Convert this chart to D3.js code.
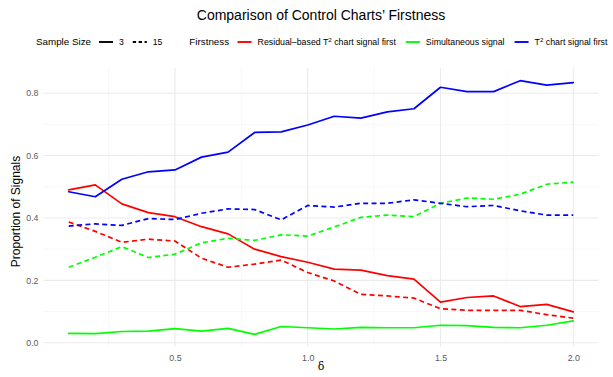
<!DOCTYPE html>
<html>
<head>
<meta charset="utf-8">
<script src="https://cdn.jsdelivr.net/npm/d3@7"></script>
<style>
  html, body { margin: 0; padding: 0; background: #fff; }
  svg { display: block; font-family: "Liberation Sans", Arial, Helvetica, sans-serif; }
</style>
</head>
<body>
<svg id="chart" width="613" height="377"></svg>
<script>
// Shift size delta on the x axis
const deltas = [0.1, 0.2, 0.3, 0.4, 0.5, 0.6, 0.7, 0.8, 0.9, 1.0,
                1.1, 1.2, 1.3, 1.4, 1.5, 1.6, 1.7, 1.8, 1.9, 2.0];

// Proportion of signals, sample size 3
const residualFirstN3 = [0.490, 0.506, 0.445, 0.417, 0.404, 0.372, 0.349, 0.300, 0.276, 0.258,
                         0.236, 0.233, 0.215, 0.204, 0.130, 0.145, 0.150, 0.116, 0.123, 0.099];
const simultaneousN3  = [0.030, 0.029, 0.036, 0.037, 0.045, 0.037, 0.046, 0.027, 0.052, 0.048,
                         0.044, 0.049, 0.048, 0.048, 0.056, 0.055, 0.049, 0.048, 0.056, 0.070];
const t2FirstN3       = [0.484, 0.468, 0.524, 0.548, 0.554, 0.595, 0.611, 0.674, 0.676, 0.698,
                         0.726, 0.720, 0.740, 0.750, 0.819, 0.805, 0.805, 0.840, 0.826, 0.834];

// Proportion of signals, sample size 15
const residualFirstN15 = [0.387, 0.357, 0.322, 0.332, 0.326, 0.271, 0.242, 0.252, 0.265, 0.225,
                          0.198, 0.155, 0.150, 0.143, 0.109, 0.104, 0.104, 0.104, 0.090, 0.079];
const simultaneousN15  = [0.242, 0.274, 0.308, 0.273, 0.284, 0.320, 0.335, 0.328, 0.346, 0.342,
                          0.371, 0.402, 0.409, 0.404, 0.447, 0.464, 0.460, 0.476, 0.508, 0.515];
const t2FirstN15       = [0.374, 0.381, 0.376, 0.398, 0.395, 0.415, 0.429, 0.427, 0.394, 0.440,
                          0.435, 0.447, 0.447, 0.458, 0.447, 0.436, 0.440, 0.423, 0.409, 0.409];

const xTicks = [0.5, 1.0, 1.5, 2.0];
const xMinor = [0.25, 0.75, 1.25, 1.75];
const yTicks = [0.0, 0.2, 0.4, 0.6, 0.8];
const yMinor = [0.1, 0.3, 0.5, 0.7];

const sampleSizes = ["3", "15"];
const firstnessLabels = ["Residual–based T|2| chart signal first", "Simultaneous signal", "T|2| chart signal first"];
const firstnessColors = ["#ff0000", "#00ff00", "#0000ff"];

const series = [
  { f: 0, n: 0, values: residualFirstN3 },
  { f: 1, n: 0, values: simultaneousN3 },
  { f: 2, n: 0, values: t2FirstN3 },
  { f: 0, n: 1, values: residualFirstN15 },
  { f: 1, n: 1, values: simultaneousN15 },
  { f: 2, n: 1, values: t2FirstN15 }
];

const svg = d3.select("#chart");
const panel = { left: 43.5, right: 598.5, top: 68, bottom: 347 };

// ggplot-style 5% expansion around the data range
const xExt = d3.extent(deltas);
const xPad = (xExt[1] - xExt[0]) * 0.05;
const x = d3.scaleLinear().domain([xExt[0] - xPad, xExt[1] + xPad]).range([panel.left, panel.right]);

const allVals = series.flatMap(s => s.values);
const yExt = d3.extent(allVals);
const yPad = (yExt[1] - yExt[0]) * 0.05;
const y = d3.scaleLinear().domain([yExt[0] - yPad, yExt[1] + yPad]).range([panel.bottom, panel.top]);

// grid
const grid = svg.append("g");
grid.selectAll(".xminor").data(xMinor).join("line")
  .attr("x1", d => x(d)).attr("x2", d => x(d)).attr("y1", panel.top).attr("y2", panel.bottom)
  .attr("stroke", "#f2f2f2").attr("stroke-width", 0.55);
grid.selectAll(".yminor").data(yMinor).join("line")
  .attr("y1", d => y(d)).attr("y2", d => y(d)).attr("x1", panel.left).attr("x2", panel.right)
  .attr("stroke", "#f2f2f2").attr("stroke-width", 0.55);
grid.selectAll(".xmajor").data(xTicks).join("line")
  .attr("x1", d => x(d)).attr("x2", d => x(d)).attr("y1", panel.top).attr("y2", panel.bottom)
  .attr("stroke", "#ebebeb").attr("stroke-width", 1.07);
grid.selectAll(".ymajor").data(yTicks).join("line")
  .attr("y1", d => y(d)).attr("y2", d => y(d)).attr("x1", panel.left).attr("x2", panel.right)
  .attr("stroke", "#ebebeb").attr("stroke-width", 1.07);

// axes (labels only, no domain line or ticks)
const xAxis = svg.append("g").attr("transform", `translate(0,${panel.bottom})`)
  .call(d3.axisBottom(x).tickValues(xTicks).tickFormat(d3.format(".1f")).tickSize(0).tickPadding(8));
const yAxis = svg.append("g").attr("transform", `translate(${panel.left},0)`)
  .call(d3.axisLeft(y).tickValues(yTicks).tickFormat(d3.format(".1f")).tickSize(0).tickPadding(5));
[xAxis, yAxis].forEach(a => {
  a.select(".domain").remove();
  a.selectAll("text").attr("fill", "#5a5a5a").style("font-size", "8.8px")
    .style("font-family", "'Liberation Sans', Arial, sans-serif");
});

// lines
const line = d3.line().x((d, i) => x(deltas[i])).y(d => y(d));
svg.append("g").selectAll("path").data(series).join("path")
  .attr("d", s => line(s.values))
  .attr("fill", "none")
  .attr("stroke", s => firstnessColors[s.f])
  .attr("stroke-width", 1.7)
  .attr("stroke-linecap", s => s.n === 1 ? "butt" : "round")
  .attr("stroke-linejoin", "round")
  .attr("stroke-dasharray", s => s.n === 1 ? "5,3.4" : null);

// title
svg.append("text").attr("x", (panel.left + panel.right) / 2).attr("y", 19.5)
  .attr("text-anchor", "middle").style("font-size", "14px").attr("fill", "#000")
  .text("Comparison of Control Charts’ Firstness");

// axis titles
svg.append("text").attr("x", (panel.left + panel.right) / 2).attr("y", 370)
  .attr("text-anchor", "middle").style("font-size", "11px")
  .style("font-family", "'DejaVu Serif', 'Liberation Serif', serif")
  .text("δ");
svg.append("text")
  .attr("transform", `translate(19.5,${(panel.top + panel.bottom) / 2 + 4}) rotate(-90)`)
  .attr("text-anchor", "middle").style("font-size", "12px").text("Proportion of Signals");

// legend
const leg = svg.append("g");
const legY = 45;
let cx = 36;
function addText(str, size) {
  const t = leg.append("text").attr("x", cx).attr("y", legY).style("font-size", size + "px").attr("fill", "#000");
  const parts = str.split("|");
  parts.forEach((p, i) => {
    if (i % 2 === 1) {
      t.append("tspan").attr("dy", -3.5).style("font-size", (size * 0.7) + "px").text(p);
    } else {
      const ts = t.append("tspan").text(p);
      if (i > 0) ts.attr("dy", 3.5);
    }
  });
  cx += t.node().getComputedTextLength();
}
function addKey(color, dashed) {
  leg.append("line").attr("x1", cx).attr("x2", cx + 14).attr("y1", legY - 3).attr("y2", legY - 3)
    .attr("stroke", color).attr("stroke-width", 1.9)
    .attr("stroke-dasharray", dashed ? "3.3,2.6" : null);
  cx += 14;
}
addText("Sample Size", 9.8); cx += 8;
sampleSizes.forEach((s, i) => {
  addKey("#000", i === 1); cx += 6;
  addText(s, 8.6); cx += 9;
});
cx += 18;
addText("Firstness", 9.8); cx += 8.5;
firstnessLabels.forEach((s, i) => {
  addKey(firstnessColors[i], false); cx += 6;
  addText(s, 8.8); cx += 10;
});
</script>
</body>
</html>
